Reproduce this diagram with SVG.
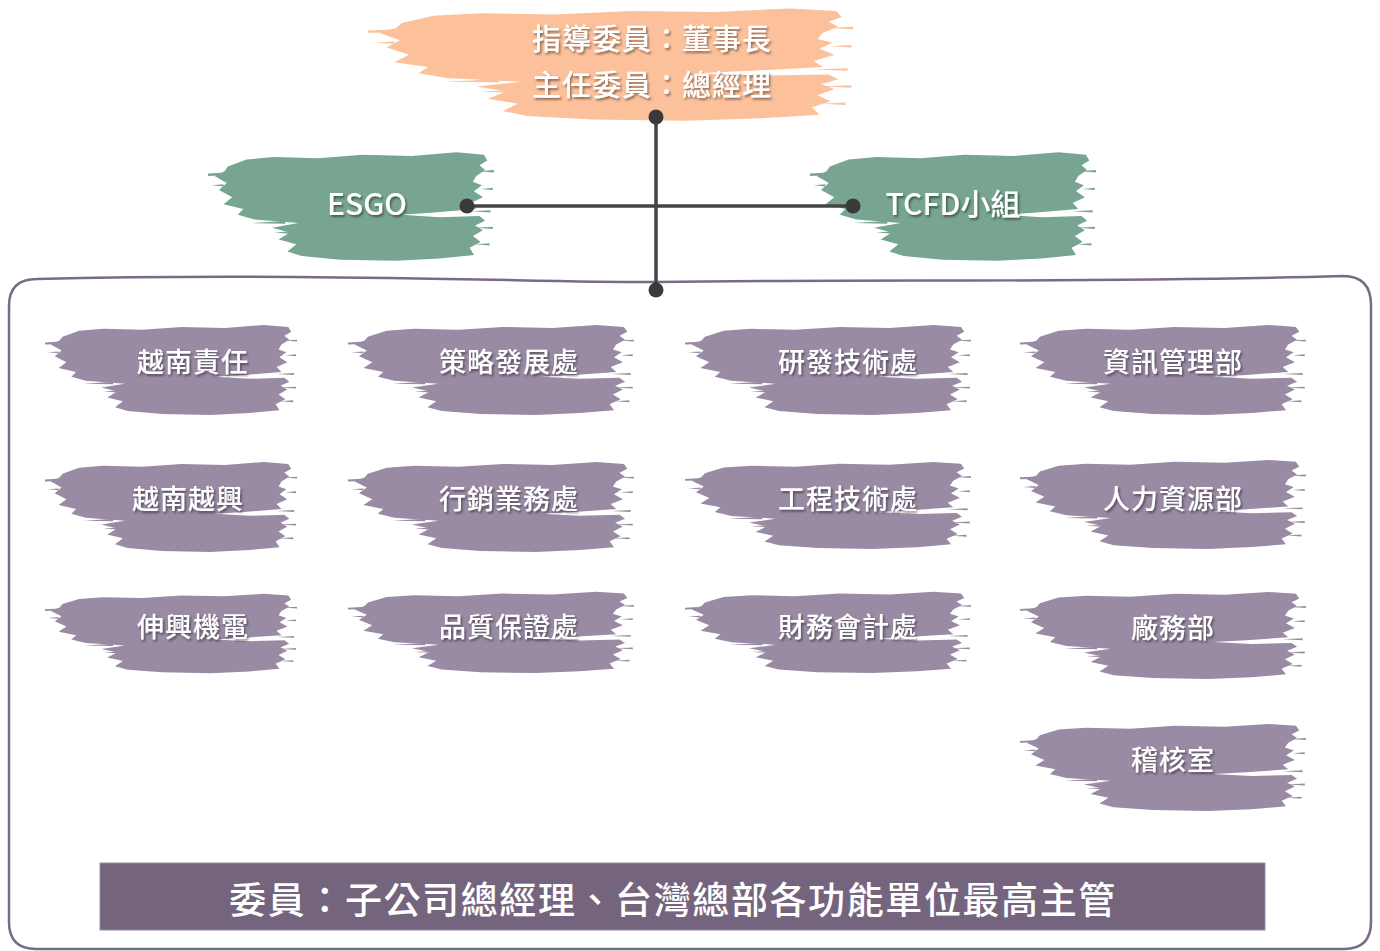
<svg xmlns="http://www.w3.org/2000/svg" xmlns:xlink="http://www.w3.org/1999/xlink" width="1380" height="951" viewBox="0 0 1380 951">
<defs>
<symbol id="brush" viewBox="0 0 260 95" preserveAspectRatio="none">
<path d="M 18,14 L 35,8 L 60,6 L 100,7 L 140,4 L 185,5 L 225,2 L 250,4 L 253,9 L 246,13 L 251,17 L 243,22 L 240,27 L 248,30 L 241,35 L 249,40 L 238,45 L 243,50 L 205,53 L 175,55 L 210,57 L 246,56 L 251,60 L 242,64 L 249,68 L 240,73 L 247,78 L 237,83 L 241,89 L 210,92 L 170,94 L 120,93 L 85,90 L 72,86 L 80,80 L 64,76 L 74,70 L 58,66 L 82,62 L 42,59 L 27,55 L 32,50 L 14,46 L 22,40 L 10,34 L 17,28 L 6,22 L 15,18 Z"/>
<path d="M 0,20 L 16,19 L 16,21.5 L 0,22 Z M 3,30 L 14,29 L 14,31 Z M 40,62 L 70,60 L 70,62.5 Z M 60,70 L 75,69 L 75,71 Z M 245,18 L 259,17 L 259,19 Z M 247,33 L 258,32 L 258,34 Z M 238,52 L 256,51 L 256,53 Z M 242,66 L 258,65 L 258,67 Z M 242,80 L 255,79 L 255,81 Z"/>
</symbol>
<filter id="sh" x="-20%" y="-40%" width="140%" height="180%">
<feDropShadow dx="1.5" dy="2" stdDeviation="1.2" flood-color="#000" flood-opacity="0.45"/>
</filter>
</defs>
<style>
.t{font-family:"Noto Sans CJK TC","Noto Sans",sans-serif;fill:#fff;text-anchor:middle;filter:url(#sh);font-weight:500;}
.p{font-size:27px;letter-spacing:1px;}
.g{font-size:30px;}
.o{font-size:29px;letter-spacing:1px;}
.pu{fill:#9a8ba5;}
.gr{fill:#77a591;}
.or{fill:#fcc09b;}
.ln{stroke:#444;stroke-width:3.5;fill:none;}
.dot{fill:#3a3a3a;}
</style>

<path id="container" d="M 37,279 C 300,272 560,283 656,282 C 900,279 1100,283 1343,276 Q 1371,276 1371,305 L 1371,922 Q 1371,949 1344,949 L 36,949 Q 9,949 9,922 L 9,306 Q 9,279 37,279 Z" fill="none" stroke="#7b6a85" stroke-width="2.5"/>

<g id="top">
<use href="#brush" class="or" x="368" y="6" width="487" height="116"/>
<text class="t o" x="652" y="50">指導委員：董事長</text>
<text class="t o" x="652" y="96">主任委員：總經理</text>
</g>
<g id="esgo">
<use href="#brush" class="gr" x="208" y="150" width="287" height="112"/>
<text class="t g" x="367" y="215">ESGO</text>
</g>
<g id="tcfd">
<use href="#brush" class="gr" x="810" y="150" width="287" height="112"/>
<text class="t g" x="953" y="215">TCFD小組</text>
</g>

<g id="n1"><use href="#brush" class="pu" x="45" y="323" width="253" height="93"/><text class="t p" x="193" y="372">越南責任</text></g>
<g id="n2"><use href="#brush" class="pu" x="348" y="323" width="287" height="93"/><text class="t p" x="509" y="372">策略發展處</text></g>
<g id="n3"><use href="#brush" class="pu" x="685" y="323" width="287" height="93"/><text class="t p" x="848" y="372">研發技術處</text></g>
<g id="n4"><use href="#brush" class="pu" x="1020" y="323" width="287" height="93"/><text class="t p" x="1173" y="372">資訊管理部</text></g>

<g id="n5"><use href="#brush" class="pu" x="45" y="460" width="253" height="93"/><text class="t p" x="188" y="509">越南越興</text></g>
<g id="n6"><use href="#brush" class="pu" x="348" y="460" width="287" height="93"/><text class="t p" x="509" y="509">行銷業務處</text></g>
<g id="n7"><use href="#brush" class="pu" x="685" y="460" width="287" height="90"/><text class="t p" x="848" y="509">工程技術處</text></g>
<g id="n8"><use href="#brush" class="pu" x="1020" y="458" width="287" height="92"/><text class="t p" x="1173" y="509">人力資源部</text></g>

<g id="n9"><use href="#brush" class="pu" x="45" y="592" width="253" height="82"/><text class="t p" x="193" y="637">伸興機電</text></g>
<g id="n10"><use href="#brush" class="pu" x="348" y="590" width="287" height="84"/><text class="t p" x="509" y="637">品質保證處</text></g>
<g id="n11"><use href="#brush" class="pu" x="685" y="590" width="287" height="84"/><text class="t p" x="848" y="637">財務會計處</text></g>
<g id="n12"><use href="#brush" class="pu" x="1020" y="590" width="287" height="90"/><text class="t p" x="1173" y="638">廠務部</text></g>

<g id="n13"><use href="#brush" class="pu" x="1020" y="722" width="287" height="90"/><text class="t p" x="1173" y="770">稽核室</text></g>

<g id="banner">
<rect x="100" y="863" width="1165" height="67" fill="#75647d" stroke="#9a8ba5" stroke-width="1"/>
<text x="673" y="914" font-family="Noto Sans CJK TC, sans-serif" font-size="37" font-weight="500" fill="#fff" text-anchor="middle" letter-spacing="1.6">委員：子公司總經理、台灣總部各功能單位最高主管</text>
</g>

<g id="connectors">
<line class="ln" x1="656" y1="117" x2="656" y2="290"/>
<line class="ln" x1="467" y1="206" x2="853" y2="206"/>
<circle class="dot" cx="656" cy="117" r="7.5"/>
<circle class="dot" cx="656" cy="290" r="7.5"/>
<circle class="dot" cx="467" cy="206" r="7.5"/>
<circle class="dot" cx="853" cy="206" r="7.5"/>
</g>
</svg>
